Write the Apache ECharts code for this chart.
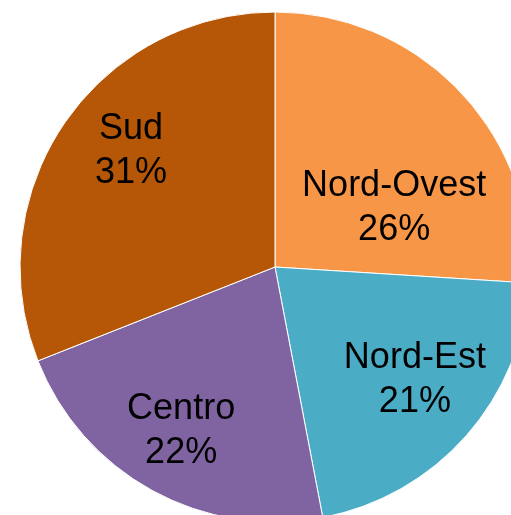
<!DOCTYPE html>
<html lang="it">
<head>
    <meta charset="UTF-8">
    <title>Ripartizione</title>
    <script src="https://cdn.jsdelivr.net/npm/echarts@6/dist/echarts.min.js"></script>
    <style>
        html, body { margin: 0; padding: 0; background: #fff; }
    </style>
</head>
<body>
<div id="main" style="width: 511px;height:515px;"></div>
<script type="text/javascript">
    // dati
    var categories = ['Nord-Ovest', 'Nord-Est', 'Centro', 'Sud'];
    var values = [26, 21, 22, 31];
    var colors = ['#F79646', '#4BACC6', '#8064A2', '#B65708'];

    // spostamento delle etichette rispetto alla posizione "inside"
    var labelShift = [[24, 30], [42, 27], [-31, 50], [-36, -43]];

    var myChart = echarts.init(document.getElementById('main'));

    var pieData = categories.map(function (name, i) {
        return { name: name, value: values[i], itemStyle: { color: colors[i] } };
    });

    var option = {
        animation: false,
        series: [{
            type: 'pie',
            center: [275, 267],
            radius: 255,
            startAngle: 90,
            clockwise: true,
            avoidLabelOverlap: false,
            itemStyle: {
                borderColor: '#ffffff',
                borderWidth: 1
            },
            label: {
                show: true,
                position: 'inside',
                formatter: '{b}\n{d}%',
                color: '#000',
                fontFamily: 'Liberation Sans, Arial, sans-serif',
                fontSize: 36,
                lineHeight: 44,
                align: 'center'
            },
            labelLine: { show: false },
            emphasis: { disabled: true },
            labelLayout: function (params) {
                var s = labelShift[params.dataIndex];
                return { dx: s[0], dy: s[1] };
            },
            data: pieData
        }]
    };
    myChart.setOption(option);
</script>
</body>
</html>
